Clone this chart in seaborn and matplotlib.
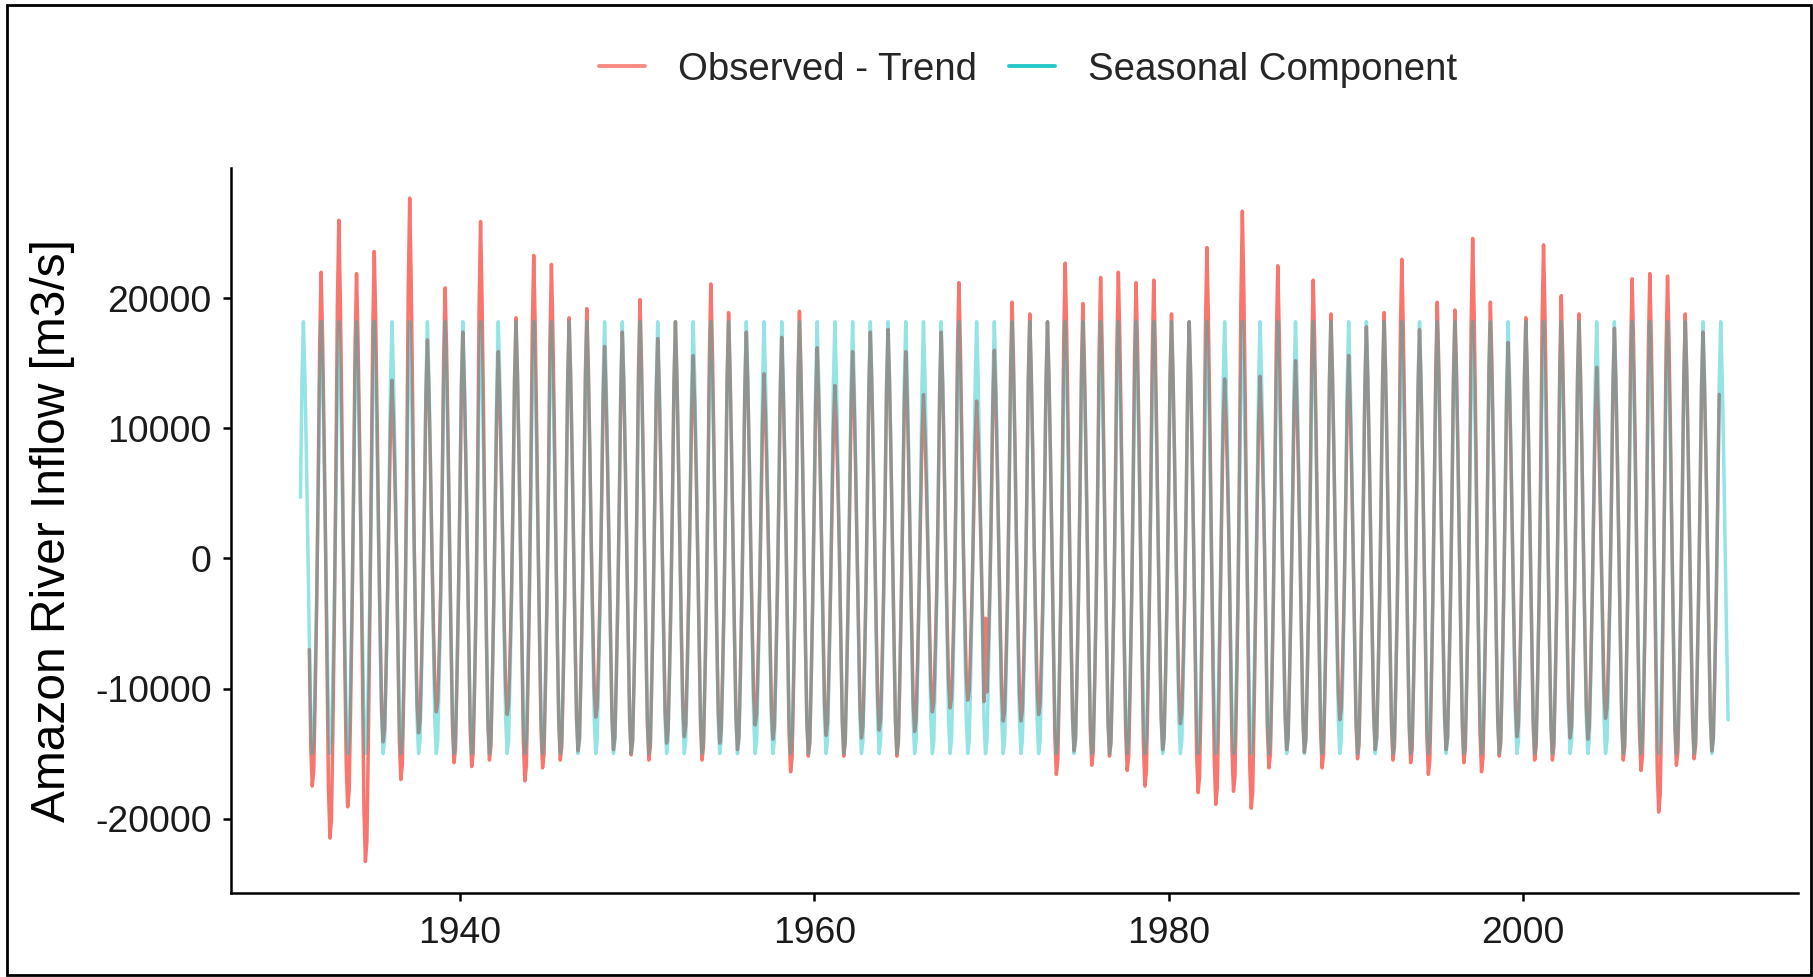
import numpy as np
import pandas as pd
import matplotlib
matplotlib.use("Agg")
import matplotlib.pyplot as plt
from matplotlib.patches import Rectangle
from matplotlib.lines import Line2D
import seaborn as sns

# ---------------------------------------------------------------
# Data (m3/s)
# ---------------------------------------------------------------
month_names = ["Jan", "Feb", "Mar", "Apr", "May", "Jun",
               "Jul", "Aug", "Sep", "Oct", "Nov", "Dec"]

# Seasonal component, one value per calendar month
seasonal_profile = [4700, 13500, 18200, 14000, 8000, 1000,
                    -6000, -12400, -15000, -14000, -9000, -3000]

# Series spans Jan 1931 .. Aug 2011; observed - trend loses 6 months at each end
series_start = (1931, 1)
series_end = (2011, 8)
detrended_start = (1931, 7)
detrended_end = (2011, 2)

# Observed - trend: annual high-water anomaly (1932..2011)
peak_years = list(range(1932, 2012))
annual_peak = [
    22000, 26000, 21900, 23600, 13700, 27700, 16800, 20800,          # 1932-1939
    17400, 25900, 15900, 18500, 23300, 22600, 18500, 19200, 16300, 17400,  # 1940-1949
    19900, 16900, 18200, 15600, 21100, 18900, 17400, 14200, 17000, 19000,  # 1950-1959
    16200, 13300, 15900, 17400, 17600, 15900, 12600, 17400, 21200, 12100,  # 1960-1969
    16000, 19700, 18800, 18200, 22700, 19600, 21600, 22000, 21200, 21400,  # 1970-1979
    18800, 18200, 23900, 13800, 26700, 14000, 22500, 15200, 21400, 18800,  # 1980-1989
    15600, 17800, 18900, 23000, 17600, 19700, 19100, 24600, 19700, 16600,  # 1990-1999
    18500, 24100, 20200, 18800, 14700, 17700, 21500, 21900, 21700, 18800,  # 2000-2009
    17400, 17000,                                                      # 2010-2011
]

# Observed - trend: annual low-water anomaly (1931..2010)
trough_years = list(range(1931, 2011))
annual_trough = [
    -17500, -21500, -19100, -23300, -14100, -17000, -13400, -11800, -15700,  # 1931-1939
    -16000, -15500, -12000, -17100, -16100, -15500, -14800, -12200, -14700, -15100,  # 1940-1949
    -15500, -14200, -13700, -15500, -14200, -14700, -12800, -13900, -16400, -15200,  # 1950-1959
    -13600, -15200, -13800, -13200, -15200, -13300, -11800, -11500, -10900, -11000,  # 1960-1969
    -12500, -12500, -12000, -16600, -14800, -15900, -15200, -16300, -17500, -14700,  # 1970-1979
    -12700, -18000, -18900, -17900, -19200, -16100, -14700, -14900, -16100, -12400,  # 1980-1989
    -15400, -14700, -15500, -15700, -16600, -14700, -15700, -16400, -15200, -13700,  # 1990-1999
    -15500, -15500, -13800, -13900, -12300, -15500, -16300, -19500, -15900, -15400,  # 2000-2009
    -14800,                                                                  # 2010
]

# Individual months that break the usual annual shape
irregular_months = {(1969, 8): -11000, (1969, 9): -4600}

x_ticks = [1940, 1960, 1980, 2000]
y_ticks = [-20000, -10000, 0, 10000, 20000]

series_labels = ["Observed - Trend", "Seasonal Component"]
series_colors = ["#F8766D", "#00BFC4"]
y_label = "Amazon River Inflow [m3/s]"


# ---------------------------------------------------------------
# Monthly tables
# ---------------------------------------------------------------
def month_range(start, end):
    out = []
    y, m = start
    while (y, m) <= end:
        out.append((y, m))
        m += 1
        if m > 12:
            m, y = 1, y + 1
    return out


seas_max = max(seasonal_profile)
seas_min = min(seasonal_profile)
peak_of = dict(zip(peak_years, annual_peak))
trough_of = dict(zip(trough_years, annual_trough))

seasonal_rows = [(y + (m - 1) / 12.0, seasonal_profile[m - 1])
                 for y, m in month_range(series_start, series_end)]
seasonal_df = pd.DataFrame(seasonal_rows, columns=["time", "value"])

detrended_rows = []
for y, m in month_range(detrended_start, detrended_end):
    s = seasonal_profile[m - 1]
    if (y, m) in irregular_months:
        v = irregular_months[(y, m)]
    elif s >= 0:
        v = s * peak_of[y] / seas_max
    else:
        v = s * trough_of[y] / seas_min
    detrended_rows.append((y + (m - 1) / 12.0, v))
detrended_df = pd.DataFrame(detrended_rows, columns=["time", "value"])

# ---------------------------------------------------------------
# Figure
# ---------------------------------------------------------------
sns.set_theme(style="ticks")
plt.rcParams["font.family"] = ["Liberation Sans", "DejaVu Sans"]

W, H, DPI = 1813, 977, 100
fig = plt.figure(figsize=(W / DPI, H / DPI), dpi=DPI, facecolor="white")
ax = fig.add_axes([231 / W, 1 - 892.6 / H, (1798 - 231) / W, (892.6 - 167.7) / H])
ax.set_facecolor("white")

line_w = 2.5
sns.lineplot(data=detrended_df, x="time", y="value", ax=ax, color=series_colors[0],
             lw=line_w, alpha=1.0, estimator=None, sort=False, legend=False)
sns.lineplot(data=seasonal_df, x="time", y="value", ax=ax, color=series_colors[1],
             lw=line_w, alpha=0.42, estimator=None, sort=False, legend=False)

ax.set_xlim(1927.08, 2015.53)
ax.set_ylim(-25690, 30040)
ax.set_xticks(x_ticks)
ax.set_yticks(y_ticks)
ax.set_xticklabels([str(t) for t in x_ticks])
ax.set_yticklabels([str(t) for t in y_ticks])
ax.set_xlabel("")
ax.set_ylabel(y_label, fontsize=34.5, color="black", labelpad=14)

for side in ["top", "right"]:
    ax.spines[side].set_visible(False)
for side in ["left", "bottom"]:
    ax.spines[side].set_linewidth(1.8)
    ax.spines[side].set_color("black")
ax.tick_params(axis="both", direction="out", length=6, width=1.8, color="black",
               labelsize=26.8, labelcolor="#1a1a1a", pad=8)
ax.tick_params(axis="x", pad=11)
ax.grid(False)

handles = [Line2D([], [], color=series_colors[0], lw=2.8, alpha=0.85),
           Line2D([], [], color=series_colors[1], lw=2.8, alpha=0.85)]
fig.legend(handles, series_labels, loc="center", bbox_to_anchor=(1028 / W, 1 - 69.5 / H),
           ncol=2, frameon=False, fontsize=27.6, handlelength=1.2,
           handletextpad=0.85, columnspacing=0.85, borderpad=0)

# frame round the whole picture
fig.add_artist(Rectangle((6.7 / W, 2.3 / H), (1811 - 6.7) / W, (974.7 - 5.4) / H,
                         transform=fig.transFigure, fill=False, edgecolor="black",
                         lw=2.0))

fig.savefig("out.png", dpi=DPI, facecolor="white")
